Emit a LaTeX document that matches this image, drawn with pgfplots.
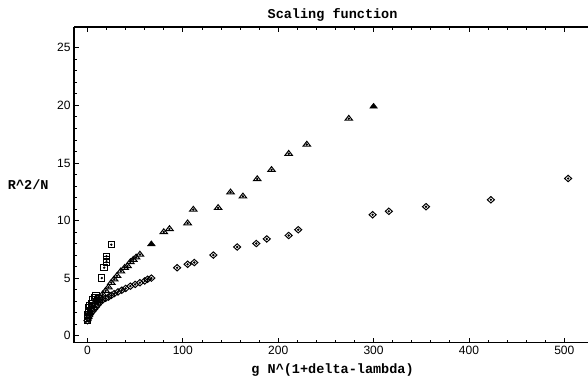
\documentclass[border=0pt]{standalone}
\usepackage{fontspec}
\setmainfont{Liberation Sans}
\newfontfamily\monofont{Liberation Mono}
\usepackage{pgfplots}
\pgfplotsset{compat=1.18}
\begin{document}
\begin{tikzpicture}
\begin{axis}[name=ax,
  scale only axis, width=516pt, height=315pt,
  xmin=-14, xmax=528, ymin=-0.6, ymax=26.8,
  axis x line*=box, axis y line*=left,
  xtick={0,100,...,500}, ytick={0,5,...,25},
  minor x tick num=4, minor y tick num=4,
  tick align=inside,
  major tick length=5pt, minor tick length=3pt,
  axis line style={line width=1.3pt, -},
  every tick/.style={black, line width=0.8pt},
  /pgf/number format/assume math mode=true,
  tick label style={font=\fontsize{12}{14}\selectfont},
  title={\monofont\bfseries\fontsize{13.5}{15}\selectfont Scaling function},
  title style={yshift=-4pt},
  xlabel={\monofont\bfseries\fontsize{13.5}{15}\selectfont g N\textasciicircum(1+delta-lambda)},
  xlabel style={yshift=-2pt},
  every axis y label/.style={at={(axis description cs:0,0.5)}, anchor=east, xshift=-22pt},
  ylabel={\monofont\bfseries\fontsize{13.5}{15}\selectfont R\textasciicircum2/N},
  mark options={solid, line width=0.9pt},
]
\pgfplotstableread{
x y
0 1.3
1 1.5
2 1.7
3 1.9
5 2.1
7 2.3
9 2.5
11 2.7
13 2.9
16 3.1
19 3.25
22 3.35
25 3.5
28 3.65
32 3.8
36 3.95
40 4.1
45 4.3
50 4.45
55 4.6
60 4.75
63 4.9
67 5.0
94 5.9
105 6.2
112 6.35
132 7.0
157 7.7
177 8.0
188 8.4
211 8.7
221 9.2
299 10.5
316 10.8
355 11.2
423 11.8
504 13.65
}\diam
\pgfplotstableread{
x y
2 2.0
4 2.3
6 2.6
8 2.9
10 3.1
13 3.3
16 3.6
19 3.9
22 4.2
25 4.6
28 4.9
31 5.2
35 5.6
39 5.9
42 6.05
45 6.4
48 6.6
51 6.8
55 7.05
80 9.0
86 9.27
105 9.77
111 10.95
137 11.1
150 12.45
163 12.1
178 13.6
193 14.4
211 15.8
230 16.6
274 18.85
}\tri
\pgfplotstableread{
x y
0 1.3
0 1.5
0 1.8
1 2.0
1 2.2
1 2.4
2 2.6
4 2.8
6 3.1
8 3.3
9 3.5
12 3.2
15 5.0
17.5 5.9
20 6.4
20 6.6
20 6.9
25 7.9
}\squ
\addplot[only marks, mark=diamond, mark size=4.7pt, mark options={yscale=0.68, line width=1pt}] table {\diam};
\addplot[only marks, mark=*, mark size=0.7pt] table {\diam};
\addplot[only marks, mark=triangle, mark size=4.3pt, mark options={yscale=0.75, line width=1pt}] table {\tri};
\addplot[only marks, mark=*, mark size=0.7pt] table {\tri};
\addplot[only marks, mark=triangle*, mark size=4.5pt, mark options={yscale=0.75, fill=black}] table {
x y
67 7.95
300 19.9
};
\addplot[only marks, mark=square, mark size=3.2pt, mark options={line width=1pt}] table {\squ};
\addplot[only marks, mark=*, mark size=0.7pt] table {\squ};
\end{axis}
\pgfresetboundingbox
\path[use as bounding box] ([xshift=-74pt,yshift=-38pt]ax.south west) rectangle ([xshift=-3pt,yshift=27pt]ax.north east);
\end{tikzpicture}
\end{document}
